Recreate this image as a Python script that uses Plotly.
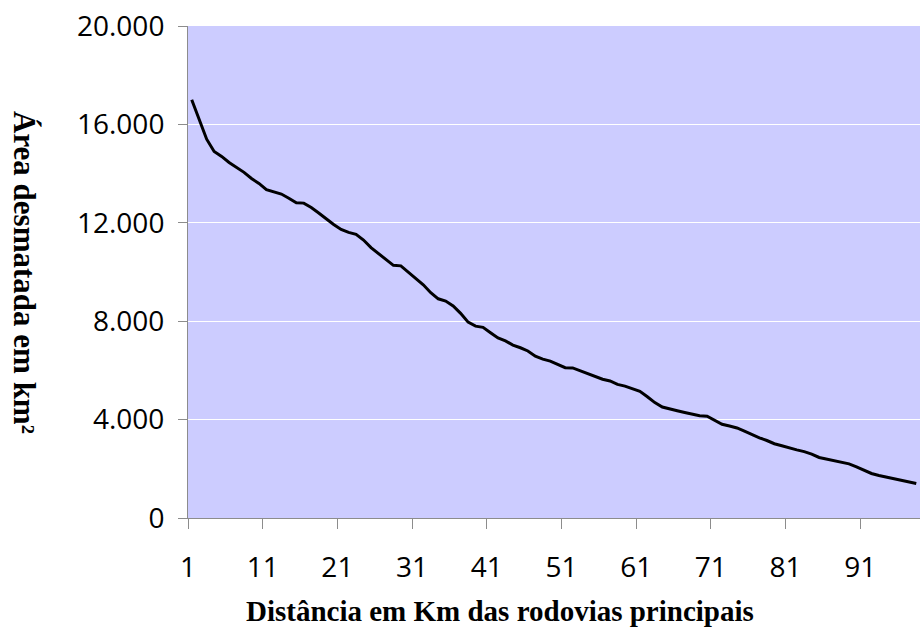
import plotly.graph_objects as go

# Data
distance_km = list(range(1, 99))
deforested_area = [
    17000, 16200, 15400, 14900, 14700, 14450, 14250, 14050, 13800, 13600,
    13350, 13250, 13170, 13000, 12810, 12800, 12620, 12400, 12150, 11930,
    11730, 11610, 11530, 11300, 10990, 10760, 10510, 10270, 10250, 10000,
    9750, 9480, 9160, 8910, 8820, 8620, 8320, 7960, 7800, 7750,
    7530, 7320, 7200, 7030, 6920, 6790, 6580, 6460, 6380, 6250,
    6110, 6100, 5990, 5880, 5740, 5640, 5570, 5430, 5360, 5250,
    5150, 4930, 4690, 4510, 4420, 4360, 4290, 4210, 4160, 4140,
    3980, 3810, 3740, 3660, 3530, 3380, 3260, 3150, 3020, 2940,
    2840, 2770, 2700, 2600, 2460, 2400, 2330, 2270, 2200, 2080,
    1950, 1810, 1730, 1670, 1600, 1530, 1460, 1400,
]
x_tick_labels = ["1", "11", "21", "31", "41", "51", "61", "71", "81", "91"]
y_tick_values = [0, 4000, 8000, 12000, 16000, 20000]
y_tick_labels = ["0", "4.000", "8.000", "12.000", "16.000", "20.000"]

x_title = "Distância em Km das rodovias principais"
y_title = "Área desmatada em km²"

fig = go.Figure()
fig.add_trace(go.Scatter(
    x=distance_km, y=deforested_area, mode="lines",
    line=dict(color="black", width=3), showlegend=False,
))

axis_gray = "#8c8c8c"
tick_font = dict(family="Open Sans", size=28, color="black")

fig.update_xaxes(
    range=[0.5, len(distance_km) + 0.5],
    tickvals=[int(t) - 0.5 for t in x_tick_labels],
    ticktext=x_tick_labels,
    ticks="outside", ticklen=10, tickcolor=axis_gray, tickwidth=1,
    ticklabelstandoff=14,
    showline=True, linecolor=axis_gray, linewidth=1,
    showgrid=False, zeroline=False,
    tickfont=tick_font,
)
fig.update_yaxes(
    range=[0, 20000],
    tickvals=y_tick_values, ticktext=y_tick_labels,
    ticks="outside", ticklen=9, tickcolor=axis_gray, tickwidth=1,
    ticklabelstandoff=8,
    showline=True, linecolor=axis_gray, linewidth=1,
    showgrid=True, gridcolor="white", gridwidth=1,
    zeroline=False,
    tickfont=tick_font,
)

fig.add_annotation(
    text="<b>" + x_title + "</b>", xref="paper", yref="paper",
    x=(500 - 188) / 732, y=-(611 - 518) / 492, xanchor="center", yanchor="middle",
    showarrow=False, font=dict(family="Liberation Serif", size=29, color="black"),
)
fig.add_annotation(
    text="<b>" + y_title + "</b>", xref="paper", yref="paper",
    x=-(188 - 25) / 732, y=0.5, xanchor="center", yanchor="middle",
    textangle=90,
    showarrow=False, font=dict(family="Liberation Serif", size=31, color="black"),
)

fig.update_layout(
    width=920, height=639,
    margin=dict(l=188, r=0, t=26, b=121),
    plot_bgcolor="#CCCCFF", paper_bgcolor="white",
)

fig.write_html("out.html")
